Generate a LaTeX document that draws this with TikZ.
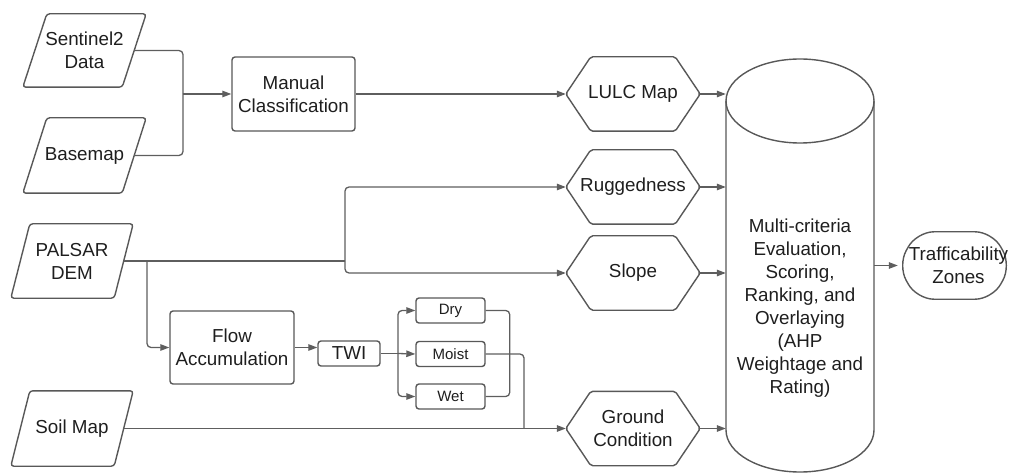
\documentclass[tikz,border=0pt]{standalone}
\usepackage{fontspec}
\setmainfont{Liberation Sans}
\usetikzlibrary{calc,arrows.meta}
\definecolor{lnc}{HTML}{5E5E5E}
\definecolor{shc}{HTML}{585858}
\definecolor{txc}{HTML}{1E1E1E}

\newcommand\mypara[6]{%
  \node[pnode, minimum width=#3pt, minimum height=#4pt] (#1) at (#2) {#6};
  \draw[shp, rounded corners=3pt] ($(#1.north west)+(#5,0)$) -- (#1.north east) -- ($(#1.south east)-(#5,0)$) -- (#1.south west) -- cycle;
  \coordinate (#1-e) at ($(#1.east)-(#5/2,0)$);
}
\newcommand\hexnode[3]{%
  \node[hexn] (#1) at (#2) {#3};
  \draw[shp, rounded corners=2pt] (#1.west) -- ($(#1.north west)+(25,0)$) -- ($(#1.north east)-(25,0)$) -- (#1.east) -- ($(#1.south east)-(25,0)$) -- ($(#1.south west)+(25,0)$) -- cycle;
}

\begin{document}
\begin{tikzpicture}[x=1pt,y=-1pt,
  every node/.style={text=txc, font=\fontsize{18.8}{23}\selectfont, align=center, inner sep=0pt},
  shp/.style={draw=shc, line width=1.4pt},
  lnk/.style={draw=lnc, line width=1.3pt, rounded corners=4pt},
  arr/.style={lnk, -{Triangle[length=9pt,width=6.5pt]}},
  pnode/.style={rectangle},
  rbox/.style={rectangle, shp, rounded corners=3pt},
  hexn/.style={rectangle, minimum width=134pt, minimum height=74pt},
  small/.style={font=\fontsize{15}{18}\selectfont}
]
\useasboundingbox (0,0) rectangle (1012,473);

% inputs
\mypara{sen}{84.5,50.5}{123}{73}{24}{Sentinel2\\Data}
\mypara{bas}{84.5,155.5}{123}{75}{24}{Basemap}
\mypara{pal}{72,261}{122}{74}{19}{PALSAR\\DEM}
\mypara{soil}{72,428.5}{122}{75}{19}{Soil Map}

% process boxes
\node[rbox, minimum width=123pt, minimum height=74pt] (man) at (293.5,94) {Manual\\Classification};
\node[rbox, minimum width=124pt, minimum height=73pt] (flow) at (232,347.5) {Flow\\Accumulation};
\node[rbox, minimum width=62pt, minimum height=25pt] (twi) at (349,353.5) {TWI};
\node[rbox, small, minimum width=69pt, minimum height=25pt] (dry) at (450.5,310.5) {Dry};
\node[rbox, small, minimum width=69pt, minimum height=25pt] (moist) at (450.5,354) {Moist};
\node[rbox, small, minimum width=69pt, minimum height=25pt] (wet) at (450.5,396.5) {Wet};

% hexagons
\hexnode{lulc}{633,94}{LULC Map}
\hexnode{rug}{633,187}{Ruggedness}
\hexnode{slope}{633,273}{Slope}
\hexnode{gc}{633,428.5}{Ground\\Condition}

% cylinder
\node[minimum width=148pt, minimum height=413pt] (cyl) at (800,265.5) {};
\draw[shp] (800,101) ellipse [x radius=74pt, y radius=42pt];
\draw[shp] (726,101) -- (726,430) arc[start angle=180, end angle=360, x radius=74pt, y radius=42pt] -- (874,101);
\node (cyltxt) at (800,308) {Multi-criteria\\Evaluation,\\Scoring,\\Ranking, and\\Overlaying\\(AHP\\Weightage and\\Rating)};

% output
\node[minimum width=113pt, minimum height=67pt] (traf) at (954.5,265.5) {};
\draw[shp, rounded corners=17pt] (traf.west) -- ($(traf.north west)+(19,0)$) -- ($(traf.north east)-(19,0)$) -- (traf.east) -- ($(traf.south east)-(19,0)$) -- ($(traf.south west)+(19,0)$) -- cycle;
\node (traftxt) at (958.5,265.5) {Trafficability\\Zones};

% junctions
\coordinate (j1) at (183,94);
\coordinate (j2) at (345,261);
\coordinate (j3) at (147,261);
\coordinate (j4) at (398,353.5);
\coordinate (j5) at (524,428.5);

% connectors
\draw[lnk] (sen-e) -| (j1);
\draw[lnk] (bas-e) -| (j1);
\draw[arr] (j1) -- (man.west);
\draw[arr] (man.east) -- (lulc.west);

\draw[lnk] (pal-e) -- (j2);
\draw[arr] (j2) |- (rug.west);
\draw[arr] (j2) |- (slope.west);
\draw[arr] (j3) |- (flow.west);
\draw[arr] (flow.east) -- (flow.east -| twi.west);
\draw[lnk] (twi.east) -- (j4);
\draw[arr] (j4) |- (dry.west);
\draw[arr] (j4) -- (moist.west);
\draw[arr] (j4) |- (wet.west);
\draw[lnk] (dry.east) -- ++(24,0) |- (wet.east);
\draw[lnk] (moist.east) -| (j5);
\draw[arr] (soil-e) -- (gc.west);

\draw[arr] (lulc.east) -- (lulc.east -| cyl.west);
\draw[arr] (rug.east) -- (rug.east -| cyl.west);
\draw[arr] (slope.east) -- (slope.east -| cyl.west);
\draw[arr] (gc.east) -- (gc.east -| cyl.west);
\draw[arr] (cyl.east |- traf.west) -- (traf.west);
\end{tikzpicture}
\end{document}
